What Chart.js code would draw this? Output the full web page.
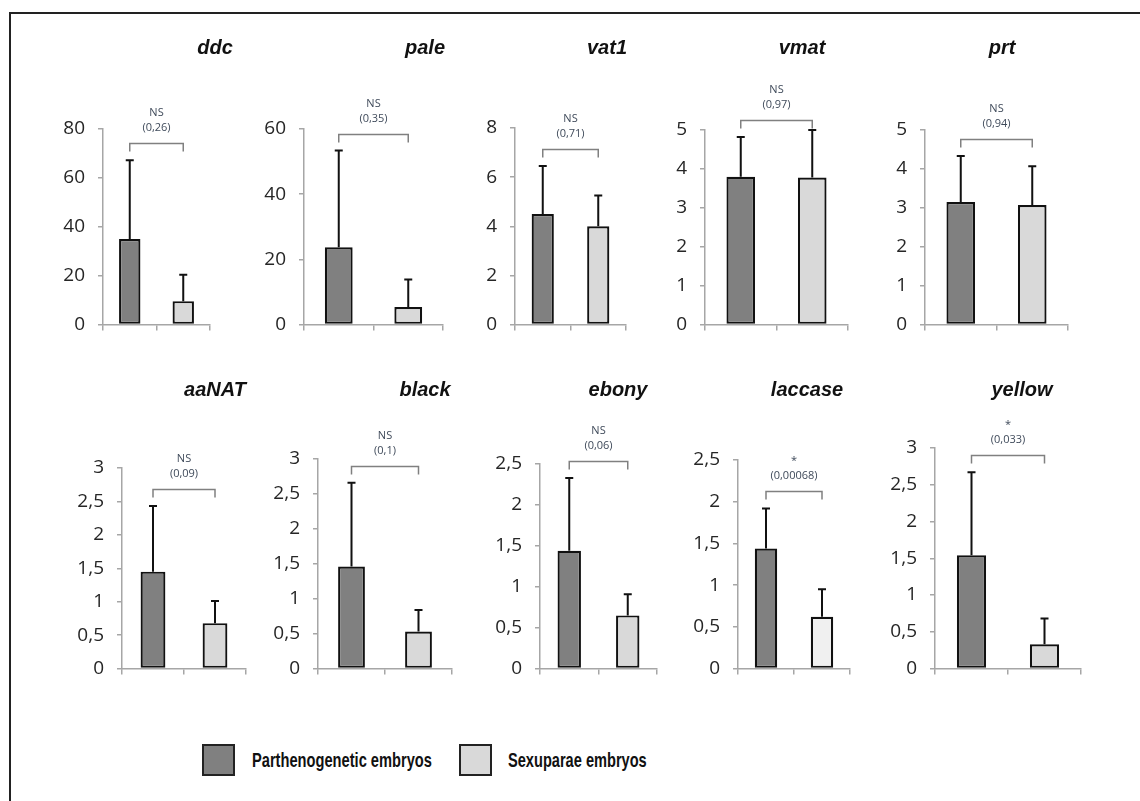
<!DOCTYPE html>
<html>
<head>
<meta charset="utf-8">
<title>Expression of melanin pathway genes</title>
<script src="https://cdn.jsdelivr.net/npm/chart.js@4"></script>
<style>
body{margin:0;background:#fff;}
#page{position:relative;width:1140px;height:801px;overflow:hidden;}
#frame{position:absolute;left:9px;top:12px;width:1200px;height:900px;border-top:2px solid #222;border-left:2px solid #222;}
.panel{position:absolute;}
.gene{position:absolute;font:italic bold 20px "Liberation Sans",Arial,sans-serif;color:#111;transform:translate(-50%,-50%);white-space:nowrap;}
.key{position:absolute;width:29px;height:28px;border:2px solid #222;}
.keytxt{position:absolute;font:bold 21px "Liberation Sans",Arial,sans-serif;line-height:24px;color:#111;transform-origin:left center;white-space:nowrap;}
</style>
</head>
<body>
<div id="page">
  <div id="frame"></div>
</div>
<script>
// genes, one small plot each
var genes = ["ddc", "pale", "vat1", "vmat", "prt", "aaNAT", "black", "ebony", "laccase", "yellow"];
var seriesNames = ["Parthenogenetic embryos", "Sexuparae embryos"];
// mean expression
var partheno = [35, 23.7, 4.5, 3.8, 3.15, 1.45, 1.46, 1.44, 1.44, 1.54];
var sexuparae = [9.6, 5.4, 4.0, 3.78, 3.07, 0.68, 0.53, 0.65, 0.62, 0.33];
// upper error bars (sd)
var parthenoSd = [32.2, 29.7, 1.95, 1.02, 1.18, 0.98, 1.2, 0.89, 0.48, 1.13];
var sexuparaeSd = [10.8, 8.4, 1.25, 1.22, 1.0, 0.33, 0.31, 0.26, 0.33, 0.35];
// test result above the bracket
var signif = ["NS", "NS", "NS", "NS", "NS", "NS", "NS", "NS", "*", "*"];
var pValues = ["0,26", "0,35", "0,71", "0,97", "0,94", "0,09", "0,1", "0,06", "0,00068", "0,033"];
// y axis
var yMax = [80, 60, 8, 5, 5, 3, 3, 2.5, 2.5, 3];
var yStep = [20, 20, 2, 1, 1, 0.5, 0.5, 0.5, 0.5, 0.5];

// where each plot sits: y axis x, x axis end, top, bottom
var boxes = [
  [103, 210, 129, 329], [304, 443, 129, 329], [515, 626, 128, 329], [705, 848, 130, 329], [925, 1068, 130, 329],
  [122, 246, 468, 673], [318, 452, 459, 673], [540, 657, 464, 673], [738, 850, 460, 673], [935, 1081, 448, 673]
];
var titlePos = [[215, 47], [425, 47], [607, 47], [802, 47], [1002, 47],
                [215, 389], [425, 389], [618, 389], [807, 389], [1022, 389]];
var dark = "#808080", light = "#d9d9d9";
var axisGrey = "#a6a6a6";

Chart.defaults.font.family = "'Open Sans', sans-serif";

// error bars + bracket with p value
var extras = {
  id: "extras",
  afterDatasetsDraw: function(chart) {
    var ds = chart.data.datasets[0];
    var y = chart.scales.y;
    var ctx = chart.ctx;
    var bars = chart.getDatasetMeta(0).data;
    var tops = [];
    ctx.save();
    ctx.strokeStyle = "#111";
    ctx.lineWidth = 2;
    bars.forEach(function(b, i) {
      var t = y.getPixelForValue(ds.data[i] + ds.errors[i]);
      tops.push(t);
      ctx.beginPath();
      ctx.moveTo(b.x, b.y);
      ctx.lineTo(b.x, t);
      ctx.moveTo(b.x - 4, t);
      ctx.lineTo(b.x + 4, t);
      ctx.stroke();
    });
    var by = Math.round(tops[0] - 17) + 0.5;
    var x1 = bars[0].x, x2 = bars[1].x;
    ctx.strokeStyle = "#808080";
    ctx.lineWidth = 1.5;
    ctx.beginPath();
    ctx.moveTo(x1, by + 8);
    ctx.lineTo(x1, by);
    ctx.lineTo(x2, by);
    ctx.lineTo(x2, by + 8);
    ctx.stroke();
    ctx.fillStyle = "#3f4a5a";
    ctx.font = "11px 'Open Sans', sans-serif";
    ctx.textAlign = "center";
    ctx.textBaseline = "middle";
    ctx.fillText(ds.sig, (x1 + x2) / 2, by - 31);
    ctx.fillText("(" + ds.p + ")", (x1 + x2) / 2, by - 16);
    ctx.restore();
  }
};

var page = document.getElementById("page");

function panel(i) {
  var b = boxes[i];
  var padTop = 80, padLeft = 70, padRight = 10, xh = 20;
  var div = document.createElement("div");
  div.className = "panel";
  div.style.left = (b[0] - padLeft) + "px";
  div.style.top = (b[2] - padTop) + "px";
  div.style.width = (padLeft + b[1] - b[0] + padRight) + "px";
  div.style.height = (padTop + b[3] - b[2] + xh) + "px";
  var cv = document.createElement("canvas");
  div.appendChild(cv);
  page.appendChild(div);

  var t = document.createElement("div");
  t.className = "gene";
  t.textContent = genes[i];
  t.style.left = titlePos[i][0] + "px";
  t.style.top = titlePos[i][1] + "px";
  page.appendChild(t);

  new Chart(cv, {
    type: "bar",
    data: {
      labels: seriesNames,
      datasets: [{
        data: [partheno[i], sexuparae[i]],
        errors: [parthenoSd[i], sexuparaeSd[i]],
        sig: signif[i],
        p: pValues[i],
        backgroundColor: [dark, genes[i] == "laccase" ? "#f0f0f0" : light],
        borderColor: "#111",
        borderWidth: 2.2,
        borderSkipped: false,
        barPercentage: 0.4,
        categoryPercentage: 1
      }]
    },
    options: {
      responsive: true,
      maintainAspectRatio: false,
      animation: false,
      layout: { padding: { top: padTop, right: padRight, left: 0, bottom: 0 } },
      plugins: { legend: { display: false }, tooltip: { enabled: false } },
      scales: {
        x: {
          offset: true,
          grid: { offset: true, drawOnChartArea: false, tickLength: 6, color: axisGrey, lineWidth: 1.5 },
          border: { color: axisGrey, width: 1.5 },
          ticks: { display: false },
          afterFit: function(s) { s.height = xh; }
        },
        y: {
          min: 0,
          max: yMax[i],
          grid: { drawOnChartArea: false, tickLength: 5, color: axisGrey, lineWidth: 1.5 },
          border: { color: axisGrey, width: 1.5 },
          ticks: {
            stepSize: yStep[i],
            padding: 13,
            color: "#262626",
            font: { size: 19 },
            callback: function(v) { return String(v).replace(".", ","); }
          },
          afterFit: function(s) { s.width = padLeft; }
        }
      }
    },
    plugins: [extras]
  });
}

for (var i = 0; i < genes.length; i++) panel(i);

// legend below the plots
var keyX = [202, 459], txtX = [252, 508], txtW = [180, 139];
[dark, light].forEach(function(c, k) {
  var box = document.createElement("div");
  box.className = "key";
  box.style.left = keyX[k] + "px";
  box.style.top = "744px";
  box.style.background = c;
  page.appendChild(box);
  var lab = document.createElement("div");
  lab.className = "keytxt";
  lab.textContent = seriesNames[k];
  lab.style.left = txtX[k] + "px";
  lab.style.top = "748px";
  page.appendChild(lab);
  lab.style.transform = "scaleX(" + (txtW[k] / lab.offsetWidth) + ")";
});
</script>
</body>
</html>
